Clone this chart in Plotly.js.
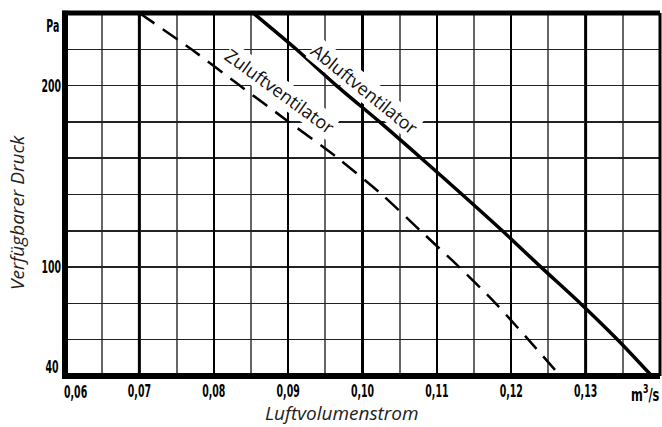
<!DOCTYPE html>
<html>
<head>
<meta charset="utf-8">
<script src="https://cdn.plot.ly/plotly-3.0.1.min.js"></script>
<style>html,body{margin:0;padding:0;background:#fff;}#chart{width:662px;height:427px;}</style>
</head>
<body>
<div id="chart"></div>
<script>
// Data
const abluftX = [0.0853, 0.0911, 0.0965, 0.1023, 0.1079, 0.1134, 0.1188, 0.1240, 0.1293, 0.1343, 0.1389];
const abluftY = [240, 220, 200, 180, 160, 140, 120, 100, 80, 60, 40];
const zuluftX = [0.0700, 0.0770, 0.0835, 0.0901, 0.0967, 0.1026, 0.1078, 0.1130, 0.1179, 0.1223, 0.1266];
const zuluftY = [240, 220, 200, 180, 160, 140, 120, 100, 80, 60, 40];
const xTickVals = [0.07, 0.08, 0.09, 0.10, 0.11, 0.12, 0.13];
const yTickVals = [100, 200];
const boldGridX = [0.07, 0.10, 0.13];

const tickFont = {family: '"DejaVu Sans Condensed", "DejaVu Sans", sans-serif', size: 18, color: '#000', weight: 'bold'};
const labelFont = {family: '"Open Sans", sans-serif', size: 18, color: '#111'};
const titleFont = {family: '"Open Sans", sans-serif', size: 19, color: '#222', style: 'italic'};

const traces = [
  {x: abluftX, y: abluftY, mode: 'lines', name: 'Abluftventilator',
   line: {color: '#000', width: 3.5, shape: 'spline', smoothing: 0.8}, hoverinfo: 'skip'},
  {x: zuluftX, y: zuluftY, mode: 'lines', name: 'Zuluftventilator',
   line: {color: '#000', width: 2.5, dash: '18px,10px', shape: 'spline', smoothing: 0.8}, hoverinfo: 'skip'}
];

const shapes = boldGridX.map(v => ({type: 'line', xref: 'x', yref: 'paper', x0: v, x1: v, y0: 0, y1: 1,
  line: {color: '#000', width: 3}, layer: 'below'}));
shapes.push(
  {type: 'line', xref: 'paper', yref: 'paper', x0: 0, x1: 0, y0: -0.008, y1: 1.006, line: {color: '#000', width: 6}},
  {type: 'line', xref: 'paper', yref: 'paper', x0: -0.005, x1: 1, y0: 0, y1: 0, line: {color: '#000', width: 6}},
  {type: 'line', xref: 'paper', yref: 'paper', x0: -0.005, x1: 1, y0: 1, y1: 1, line: {color: '#000', width: 5}},
  {type: 'line', xref: 'paper', yref: 'paper', x0: 1, x1: 1, y0: 0, y1: 1, line: {color: '#000', width: 3}}
);

const L = 65, R = 2, T = 13, B = 51, W = 662, H = 427;
const pw = W - L - R, ph = H - T - B;

const annotations = [
  {text: 'Abluftventilator', x: 0.1003, y: 198, xref: 'x', yref: 'y', showarrow: false,
   textangle: 39, font: labelFont, bgcolor: '#fff', borderpad: 0},
  {text: 'Zuluftventilator', x: 0.0889, y: 197, xref: 'x', yref: 'y', showarrow: false,
   textangle: 36, font: labelFont, bgcolor: '#fff', borderpad: 0},
  {text: 'Pa', x: 0, y: 240, xref: 'paper', yref: 'y', xanchor: 'right', yanchor: 'top',
   xshift: -4, yshift: 0, showarrow: false, font: tickFont},
  {text: '40', x: 0, y: 40, xref: 'paper', yref: 'y', xanchor: 'right', yanchor: 'bottom',
   xshift: -4, yshift: -3, showarrow: false, font: tickFont},
  {text: '0,06', x: 0.06, y: 0, xref: 'x', yref: 'paper', xanchor: 'left', yanchor: 'top',
   xshift: -3, yshift: -3, showarrow: false, font: tickFont},
  {text: 'm<sup>3</sup>/s', x: 1, y: 0, xref: 'paper', yref: 'paper', xanchor: 'right', yanchor: 'top',
   xshift: 1, yshift: -3, showarrow: false, font: tickFont},
  {text: 'Luftvolumenstrom', x: (342 - L) / pw, y: -(413 - (H - B)) / ph, xref: 'paper', yref: 'paper',
   xanchor: 'center', yanchor: 'middle', showarrow: false, font: titleFont},
  {text: 'Verfügbarer Druck', x: (17 - L) / pw, y: (H - B - 213) / ph, xref: 'paper', yref: 'paper',
   xanchor: 'center', yanchor: 'middle', showarrow: false, font: titleFont, textangle: -90}
];

const layout = {
  width: W, height: H,
  margin: {l: L, r: R, t: T, b: B},
  paper_bgcolor: '#fff', plot_bgcolor: '#fff',
  showlegend: false,
  separators: ',.',
  xaxis: {
    range: [0.06, 0.14], fixedrange: true,
    tickvals: xTickVals, ticktext: xTickVals.map(v => v.toFixed(2).replace('.', ',')),
    ticks: '', ticklabelstandoff: 2,
    tickfont: tickFont,
    showgrid: true, gridcolor: '#000', gridwidth: 2,
    minor: {dtick: 0.005, tick0: 0.06, showgrid: true, gridcolor: '#666', gridwidth: 2, ticks: ''},
    zeroline: false, showline: false
  },
  yaxis: {
    range: [40, 240], fixedrange: true,
    tickvals: yTickVals, ticktext: yTickVals.map(String),
    ticks: '', ticklabelstandoff: 3,
    tickfont: tickFont,
    showgrid: false,
    minor: {dtick: 20, tick0: 40, showgrid: true, gridcolor: '#222', gridwidth: 1.5, ticks: ''},
    zeroline: false, showline: false
  },
  shapes: shapes,
  annotations: annotations
};

// Narrow the tick-style labels horizontally to imitate the condensed lettering
function squeeze(el, s, mode) {
  const bb = el.getBBox();
  let px = bb.x + bb.width / 2;
  if (mode === 'left') px = bb.x;
  if (mode === 'right') px = bb.x + bb.width;
  const t = el.getAttribute('transform') || '';
  el.setAttribute('transform', t + ' translate(' + px + ',0) scale(' + s + ',1) translate(' + (-px) + ',0)');
}

Plotly.newPlot('chart', traces, layout, {staticPlot: true, displayModeBar: false}).then(gd => {
  const S = 0.58;
  gd.querySelectorAll('.xtick text').forEach(el => squeeze(el, S, 'center'));
  gd.querySelectorAll('.ytick text').forEach(el => squeeze(el, S, 'right'));
  gd.querySelectorAll('.annotation-text').forEach(el => {
    const txt = (el.textContent || '').trim();
    if (txt === 'Pa' || txt === '40') squeeze(el, S, 'right');
    else if (txt === '0,06') squeeze(el, S, 'left');
    else if (txt.indexOf('/s') >= 0) squeeze(el, 0.7, 'right');
  });
});
</script>
</body>
</html>
